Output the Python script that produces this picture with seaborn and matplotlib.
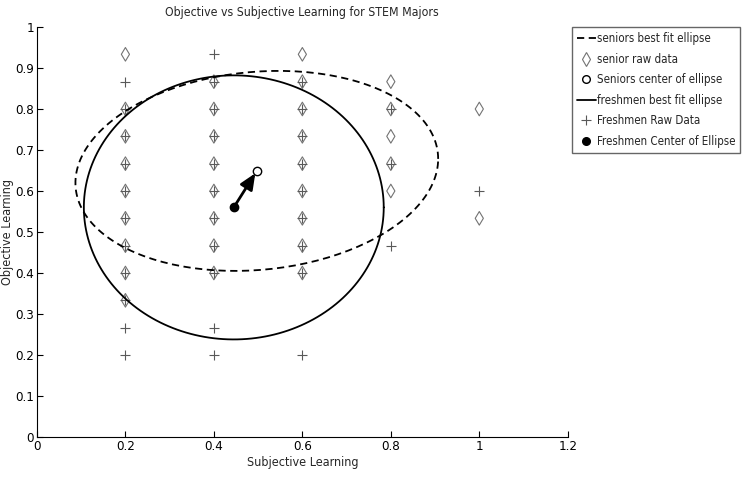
import numpy as np
import pandas as pd
import matplotlib
matplotlib.use("Agg")
import matplotlib.pyplot as plt
from matplotlib.lines import Line2D
import seaborn as sns

# Raw data (subjective x, objective y)
senior_x = [0.2] * 9 + [0.4] * 8 + [0.6] * 9 + [0.8] * 5 + [1.0] * 2
senior_y = [14, 12, 11, 10, 9, 8, 7, 6, 5,
            13, 12, 11, 10, 9, 8, 7, 6,
            14, 13, 12, 11, 10, 9, 8, 7, 6,
            13, 12, 11, 10, 9,
            12, 8]
fresh_x = [0.2] * 11 + [0.4] * 11 + [0.6] * 9 + [0.8] * 3 + [1.0] * 1
fresh_y = [13, 12, 11, 10, 9, 8, 7, 6, 5, 4, 3,
           14, 13, 12, 11, 10, 9, 8, 7, 6, 4, 3,
           13, 12, 11, 10, 9, 8, 7, 6, 3,
           12, 10, 7,
           9]
senior_y = [v / 15 for v in senior_y]
fresh_y = [v / 15 for v in fresh_y]

# ellipse fits: center and covariance-like shape (xx, yy, xy)
senior_center = [0.497, 0.649]
senior_shape = [0.1681, 0.0595, 0.012]
fresh_center = [0.445, 0.56]
fresh_shape = [0.1149, 0.1037, 0.0]


def ellipse_df(center, shape, n=200):
    cov = np.array([[shape[0], shape[2]], [shape[2], shape[1]]])
    L = np.linalg.cholesky(cov)
    t = np.linspace(0, 2 * np.pi, n)
    pts = L @ np.vstack([np.cos(t), np.sin(t)])
    return pd.DataFrame({"x": pts[0] + center[0], "y": pts[1] + center[1]})


sns.set_theme(style="ticks")
plt.rcParams["font.family"] = ["DejaVu Sans"]
plt.rcParams["font.stretch"] = "condensed"
plt.rcParams["xtick.direction"] = "in"
plt.rcParams["ytick.direction"] = "in"

fig = plt.figure(figsize=(7.54, 4.88), dpi=100)
ax = fig.add_axes([0.049, 0.1045, 0.704, 0.8402])

sen = pd.DataFrame({"x": senior_x, "y": senior_y})
fre = pd.DataFrame({"x": fresh_x, "y": fresh_y})

sns.lineplot(data=ellipse_df(senior_center, senior_shape), x="x", y="y", sort=False,
             estimator=None, color="black", lw=1.3, ax=ax, linestyle=(0, (4, 2.5)))
sns.scatterplot(data=sen, x="x", y="y", marker="d", s=48, facecolor="none",
                edgecolor="0.45", linewidth=0.8, ax=ax)
sns.lineplot(data=ellipse_df(fresh_center, fresh_shape), x="x", y="y", sort=False,
             estimator=None, color="black", lw=1.3, ax=ax)
sns.scatterplot(data=fre, x="x", y="y", marker="+", s=45, color="0.35", linewidth=0.8, ax=ax)

ax.annotate("", xy=(senior_center[0], senior_center[1]), xytext=(fresh_center[0], fresh_center[1]),
            arrowprops=dict(arrowstyle="-|>,head_length=0.8,head_width=0.35", color="black", lw=2,
                            shrinkA=0, shrinkB=2))
ax.plot([senior_center[0]], [senior_center[1]], "o", mfc="white", mec="black", ms=6, mew=1)
ax.plot([fresh_center[0]], [fresh_center[1]], "o", color="black", ms=6)

ax.set_xlim(0, 1.2)
ax.set_ylim(0, 1)
xt = [0, 0.2, 0.4, 0.6, 0.8, 1.0, 1.2]
yt = [i / 10 for i in range(11)]
ax.set_xticks(xt)
ax.set_xticklabels(["0", "0.2", "0.4", "0.6", "0.8", "1", "1.2"])
ax.set_yticks(yt)
ax.set_yticklabels(["0", "0.1", "0.2", "0.3", "0.4", "0.5", "0.6", "0.7", "0.8", "0.9", "1"])
ax.tick_params(labelsize=9.5, length=4, width=0.8, colors="black", pad=2)
for s in ["top", "right"]:
    ax.spines[s].set_visible(False)
for s in ["left", "bottom"]:
    ax.spines[s].set_linewidth(0.8)
    ax.spines[s].set_color("black")
ax.set_xlabel("Subjective Learning", fontsize=9, labelpad=2)
ax.set_ylabel("Objective Learning", fontsize=9)
ax.yaxis.set_label_coords(-0.043, 0.5)
ax.set_title("Objective vs Subjective Learning for STEM Majors", fontsize=8.8, pad=8)

handles = [
    Line2D([], [], color="black", lw=1.3, linestyle=(0, (4, 2.5))),
    Line2D([], [], marker="d", ls="none", mfc="none", mec="0.45", ms=7, mew=0.8),
    Line2D([], [], marker="o", ls="none", mfc="white", mec="black", ms=5.5),
    Line2D([], [], color="black", lw=1.3),
    Line2D([], [], marker="+", ls="none", color="0.35", ms=7, mew=0.8),
    Line2D([], [], marker="o", ls="none", color="black", ms=5.5),
]
labels = ["seniors best fit ellipse", "senior raw data", "Seniors center of ellipse",
          "freshmen best fit ellipse", "Freshmen Raw Data", "Freshmen Center of Ellipse"]
fig.legend(handles, labels, loc="upper left", bbox_to_anchor=(0.7586, 0.9447), fontsize=8.3,
           frameon=True, fancybox=False, edgecolor="0.4", framealpha=1, handlelength=1.6,
           handletextpad=0.1, borderpad=0.45, labelspacing=0.65, borderaxespad=0)

fig.savefig("out.png", dpi=100)
